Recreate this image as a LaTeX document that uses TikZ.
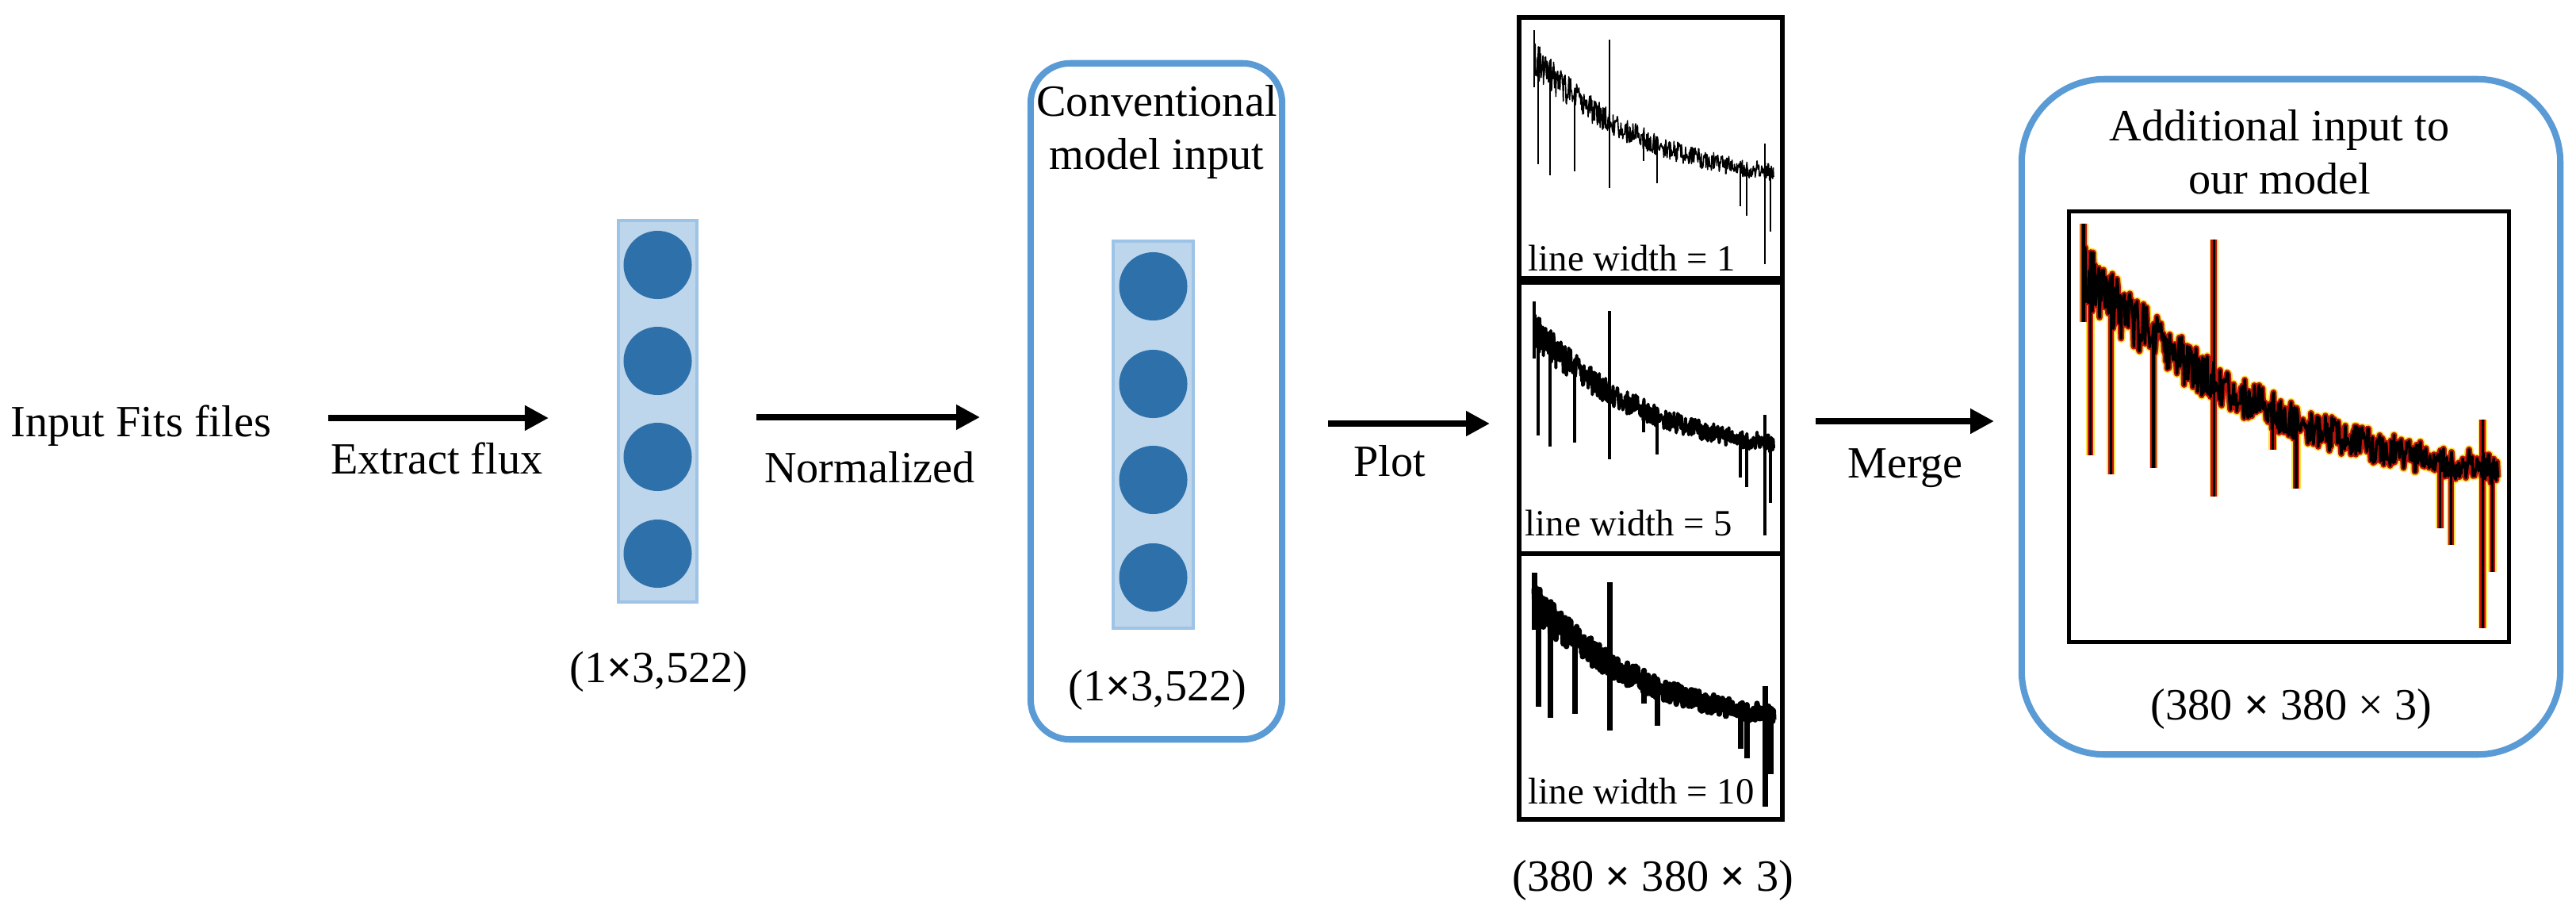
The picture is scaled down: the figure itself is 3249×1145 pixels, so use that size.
\documentclass[tikz,border=0pt]{standalone}
\usepackage{fontspec}
\setmainfont{Liberation Serif}
\usetikzlibrary{arrows.meta}

\definecolor{boxblue}{RGB}{91,155,213}
\definecolor{vecfill}{RGB}{190,214,236}
\definecolor{vecline}{RGB}{157,195,230}
\definecolor{cellblue}{RGB}{46,113,170}
\definecolor{glowred}{RGB}{190,20,10}
\definecolor{glowyellow}{RGB}{250,226,70}

\tikzset{
  flow/.style={line width=0.085cm, -{Triangle[length=3mm,width=3mm]}},
  lbl/.style={font=\fontsize{16}{19}\selectfont, inner sep=0pt},
  plotlbl/.style={font=\fontsize{13.3}{16}\selectfont, inner sep=0pt},
  vecbox/.style={draw=vecline, fill=vecfill, line width=1.2pt, inner sep=0pt},
  cell/.style={circle, fill=cellblue, minimum size=0.86cm, inner sep=0pt},
  modelbox/.style={draw=boxblue, line width=2.3pt, inner sep=0pt},
  panel/.style={draw, line width=1.6pt, inner sep=0pt, minimum width=3.32cm},
  spec/.pic={
    \pgfmathsetseed{42}
    % noisy continuum
    \draw[line join=round] plot[domain=19:321, samples=520, variable=\t]
      (\t, {215-165*exp(-(\t-19)/141) + rand*(11+13*exp(-(\t-19)/100))});
    % absorption / emission lines
    \foreach \sx/\sa/\sb in {19/16/88, 24/56/185, 39/72/199, 70/100/194,
        114/28/215, 157/150/181, 174/160/209, 279/185/238, 287/185/250,
        310/159/311, 317/190/270}
      \draw (\sx,\sa) -- (\sx,\sb);
  }
}

\begin{document}
\begin{tikzpicture}[x=0.01cm, y=-0.01cm]
    \useasboundingbox (0,0) rectangle (3249,1145);

    %----------------------
    % INPUT + FLUX VECTOR
    %----------------------
    \node[lbl, anchor=base west] (input) at (13,550) {Input Fits files};

    \coordinate (a1s) at (414,527);
    \coordinate (a1e) at (692,527);
    \draw[flow] (a1s) -- (a1e);
    \node[lbl, anchor=base] (extract) at (551,597) {Extract flux};

    % flux vector
    \node[vecbox, minimum width=0.99cm, minimum height=4.81cm] (vec1) at (829.5,518.5) {};
    \foreach \i/\cy in {1/334, 2/455, 3/576, 4/698}
        \node[cell] (v1c\i) at (829.5,\cy) {};
    \node[lbl, anchor=base] (dim1) at (831,860) {(1\textbf{×}3,522)};

    %----------------------
    % CONVENTIONAL MODEL INPUT
    %----------------------
    \coordinate (a2s) at (954,526);
    \coordinate (a2e) at (1236,526);
    \draw[flow] (a2s) -- (a2e);
    \node[lbl, anchor=base] (norm) at (1097,608) {Normalized};

    \node[modelbox, rounded corners=0.5cm, minimum width=3.17cm, minimum height=8.52cm] (conv) at (1458.5,506) {};
    % base = baseline of the last line
    \node[lbl, align=center, anchor=base] (convtxt) at (1459,213) {Conventional\\model input};

    \node[vecbox, minimum width=1.01cm, minimum height=4.88cm] (vec2) at (1454.5,548) {};
    \foreach \i/\cy in {1/361, 2/484, 3/605, 4/728}
        \node[cell] (v2c\i) at (1454.5,\cy) {};
    \node[lbl, anchor=base] (dim2) at (1460,883) {(1\textbf{×}3,522)};

    %----------------------
    % PLOTS WITH THREE LINE WIDTHS
    %----------------------
    \coordinate (a3s) at (1675,534);
    \coordinate (a3e) at (1879,534);
    \draw[flow] (a3s) -- (a3e);
    \node[lbl, anchor=base] (plot) at (1753,600) {Plot};

    \node[panel, minimum height=3.29cm] (p1) at (2082,186.5) {};
    \node[panel, minimum height=3.42cm] (p2) at (2082,527) {};
    \node[panel, minimum height=3.35cm] (p3) at (2082,865.5) {};

    \pic[line width=0.45pt] at (1916,22) {spec};
    \pic[line width=1.1pt] at (1916,364) {spec};
    \pic[line width=2pt] at (1916,706) {spec};

    \node[plotlbl, anchor=base west] (lw1) at (1927,341) {line width = 1};
    \node[plotlbl, anchor=base west] (lw5) at (1923,675) {line width = 5};
    \node[plotlbl, anchor=base west] (lw10) at (1927,1013) {line width = 10};

    \node[lbl, anchor=base] (dim3) at (2085,1123) {(380 \textbf{×} 380 \textbf{×} 3)};

    %----------------------
    % MERGED INPUT
    %----------------------
    \coordinate (a4s) at (2290,531);
    \coordinate (a4e) at (2515,531);
    \draw[flow] (a4s) -- (a4e);
    \node[lbl, anchor=base] (merge) at (2403,602) {Merge};

    \node[modelbox, rounded corners=1.05cm, minimum width=6.79cm, minimum height=8.51cm] (ours) at (2889.5,525.5) {};
    \node[lbl, align=center, anchor=base] (ourtxt) at (2875,244) {Additional input to\\our model};

    \node[draw, line width=1.4pt, inner sep=0pt, minimum width=5.54cm, minimum height=5.42cm] (merged) at (2887,538) {};
    % glow in three layers
    \pic[line width=3.2pt, color=glowyellow, scale=1.73] at (2595,254) {spec};
    \pic[line width=2.2pt, color=glowred, scale=1.73] at (2595,254) {spec};
    \pic[line width=1pt, color=black, scale=1.73] at (2595,254) {spec};

    \node[lbl, anchor=base] (dim4) at (2890,907) {(380 \textbf{×} 380 × 3)};
\end{tikzpicture}
\end{document}
